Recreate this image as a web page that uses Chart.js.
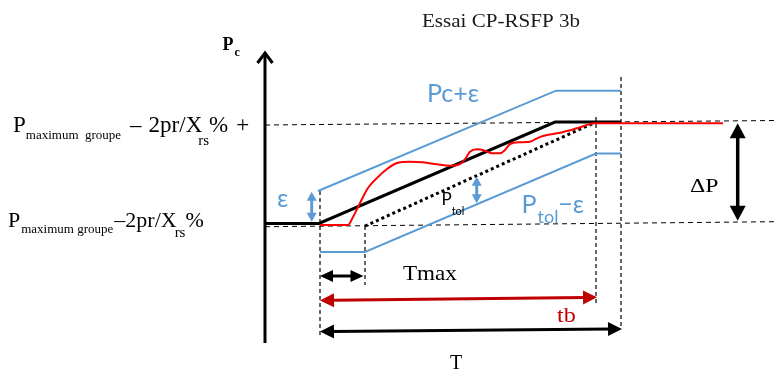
<!DOCTYPE html>
<html>
<head>
<meta charset="utf-8">
<script src="https://cdn.jsdelivr.net/npm/chart.js@4"></script>
<style>
  html, body { margin: 0; padding: 0; background: #fff; }
  #wrap { width: 776px; height: 371px; }
</style>
</head>
<body>
<div id="wrap"><canvas id="diagram" width="776" height="371"></canvas></div>
<script>
// Schematic units: t grows to the right, P is read downwards on the sheet
const axisP = [[265, 53], [265, 343]];
const axisHead = [[257.5, 63], [265, 53], [272.5, 63]];

const levelHigh = [[265, 125], [776, 120.5]];     // Pmax - 2pr/Xrs% + dP
const levelLow = [[265, 226.7], [776, 221.7]];    // Pmax - 2pr/Xrs%

// vertical time markers: t, top, bottom
const timeMarks = [[320, 191, 335], [365, 226, 285], [596, 117, 305], [621, 77, 326]];

const pcSetpoint = [[265, 223.5], [319, 223.5], [555, 122], [621, 122]];
const ptolRamp = [[365, 226], [596, 122]];
const pcPlusEps = [[318, 191], [556, 90.7], [621, 90.7]];
const ptolMinusEps = [[320, 252], [365, 252], [596, 153.5], [621, 153.5]];

// measured power (red trace)
const measuredT = [320, 348, 353, 360, 368, 377, 387, 397, 410, 423, 437, 450, 460, 465, 470, 477, 485, 492, 500, 505, 510, 520, 530, 537, 543, 560, 577, 595, 723];
const measuredP = [225, 225, 217, 203, 188, 178, 169, 163, 161.7, 162.3, 164.3, 165.7, 164, 159.3, 151.7, 149.3, 150.7, 153.3, 153.3, 150, 144, 142.3, 141.7, 138.3, 136, 132.7, 128.3, 123.3, 123.3];

// double arrows: from, to, kind
const arrows = [
  { from: [311.7, 191.7], to: [311.7, 221.7], kind: 'eps' },
  { from: [476.7, 176.7], to: [476.7, 203.3], kind: 'eps' },
  { from: [737.7, 123.3], to: [737.7, 220.7], kind: 'dp' },
  { from: [320, 276], to: [363.5, 276], kind: 'tmax' },
  { from: [320, 300.5], to: [597, 297.3], kind: 'tb' },
  { from: [320, 331.5], to: [622, 329], kind: 'T' }
];

const BLUE = '#5B9BD5';
const RED = '#FF0000';
const DARKRED = '#C00000';
const SERIF = '"Liberation Serif", "DejaVu Serif", serif';
const SANS = 'Lato, "Open Sans", "Noto Sans", sans-serif';

const arrowStyle = {
  eps: { color: BLUE, width: 3, len: 9, half: 5 },
  dp: { color: '#000', width: 3.5, len: 15, half: 8 },
  tmax: { color: '#000', width: 3, len: 13, half: 6 },
  tb: { color: DARKRED, width: 3, len: 14, half: 7 },
  T: { color: '#000', width: 3, len: 14, half: 7 }
};

// text labels, anchored at left baseline
const labels = [
  { at: [422, 27], color: '#1a1a1a', sx: 1.17, runs: [{ t: 'Essai CP-RSFP 3b', f: '18px ' + SERIF }] },
  { at: [222.5, 50], color: '#000', runs: [{ t: 'P', f: 'bold 18px ' + SERIF }, { t: 'c', f: 'bold 12px ' + SERIF, dy: 6, dx: 1 }] },
  { at: [13, 132], color: '#000', runs: [
      { t: 'P', f: '23px ' + SERIF },
      { t: 'maximum  groupe', f: '13px ' + SERIF, dy: 7 },
      { t: '–', f: '23px ' + SERIF, dx: 9 },
      { t: '2pr/X', f: '23px ' + SERIF, dx: 7 },
      { t: 'rs', f: '15px ' + SERIF, dy: 13, dx: -4 },
      { t: '%', f: '23px ' + SERIF, dx: 0 },
      { t: '+', f: '23px ' + SERIF, dx: 8 }] },
  { at: [8, 227], color: '#000', runs: [
      { t: 'P', f: '22px ' + SERIF },
      { t: 'maximum groupe', f: '13px ' + SERIF, dy: 6, dx: 1 },
      { t: '–2pr/X', f: '22px ' + SERIF, dx: 1 },
      { t: 'rs', f: '15px ' + SERIF, dy: 10, dx: -2 },
      { t: '%', f: '22px ' + SERIF }] },
  { at: [427, 101.5], color: BLUE, runs: [{ t: 'Pc+ε', f: '25px ' + SANS }] },
  { at: [277, 207], color: BLUE, runs: [{ t: 'ε', f: '25px ' + SANS }] },
  { at: [441.5, 205], color: '#000', runs: [{ t: 'P', f: '17px ' + SANS }, { t: 'tol', f: '11px ' + SANS, dy: 10 }] },
  { at: [521.5, 213], color: BLUE, runs: [{ t: 'P', f: '25px ' + SANS }, { t: 'tol', f: '18px ' + SANS, dy: 10, dx: 1 }, { t: '−ε', f: '25px ' + SANS }] },
  { at: [690, 191.5], color: '#000', sx: 1.25, runs: [{ t: 'ΔP', f: '19px ' + SERIF }] },
  { at: [403, 279.5], color: '#000', sx: 1.1, runs: [{ t: 'Tmax', f: '21px ' + SERIF }] },
  { at: [557, 321.5], color: DARKRED, sx: 1.15, runs: [{ t: 'tb', f: '21px ' + SERIF }] },
  { at: [450, 369], color: '#000', runs: [{ t: 'T', f: '20px ' + SERIF }] }
];

const pts = arr => arr.map(([x, y]) => ({ x, y }));

function line(data, color, width, extra) {
  return Object.assign({
    data: pts(data),
    showLine: true,
    borderColor: color,
    borderWidth: width,
    pointRadius: 0,
    fill: false,
    tension: 0
  }, extra || {});
}

const datasets = [
  line(measuredT.map((t, i) => [t, measuredP[i]]), RED, 2, { order: 1, cubicInterpolationMode: 'monotone' }),
  line(pcSetpoint, '#000', 3, { order: 2 }),
  line(ptolRamp, '#000', 3, { order: 3, borderDash: [3, 3] }),
  line(pcPlusEps, BLUE, 2, { order: 4 }),
  line(ptolMinusEps, BLUE, 2, { order: 4 }),
  line(axisP, '#000', 3, { order: 2 }),
  line(axisHead, '#000', 3, { order: 2, borderJoinStyle: 'miter' }),
  line(levelHigh, '#000', 1, { order: 6, borderDash: [5, 4] }),
  line(levelLow, '#000', 1, { order: 6, borderDash: [5, 4] })
];
timeMarks.forEach(([t, top, bottom]) => {
  datasets.push(line([[t, top], [t, bottom]], '#000', 1.2, { order: 6, borderDash: [4, 3] }));
});

const annotate = {
  id: 'annotate',
  afterDatasetsDraw(chart) {
    const { ctx, scales: { x, y } } = chart;
    const px = ([a, b]) => ({ x: x.getPixelForValue(a), y: y.getPixelForValue(b) });

    // arrows
    arrows.forEach(a => {
      const s = arrowStyle[a.kind];
      const p1 = px(a.from), p2 = px(a.to);
      const ang = Math.atan2(p2.y - p1.y, p2.x - p1.x);
      const ux = Math.cos(ang), uy = Math.sin(ang);
      ctx.save();
      ctx.strokeStyle = s.color;
      ctx.fillStyle = s.color;
      ctx.lineWidth = s.width;
      ctx.beginPath();
      ctx.moveTo(p1.x + ux * (s.len - 2), p1.y + uy * (s.len - 2));
      ctx.lineTo(p2.x - ux * (s.len - 2), p2.y - uy * (s.len - 2));
      ctx.stroke();
      [[p2, ang], [p1, ang + Math.PI]].forEach(([tip, a2]) => {
        ctx.save();
        ctx.translate(tip.x, tip.y);
        ctx.rotate(a2);
        ctx.beginPath();
        ctx.moveTo(0, 0);
        ctx.lineTo(-s.len, -s.half);
        ctx.lineTo(-s.len, s.half);
        ctx.closePath();
        ctx.fill();
        ctx.restore();
      });
      ctx.restore();
    });

    // labels
    labels.forEach(l => {
      const p = px(l.at);
      ctx.save();
      ctx.translate(p.x, p.y);
      ctx.scale(l.sx || 1, 1);
      ctx.fillStyle = l.color;
      ctx.textBaseline = 'alphabetic';
      let cx = 0;
      l.runs.forEach(r => {
        ctx.font = r.f;
        cx += r.dx || 0;
        ctx.fillText(r.t, cx, r.dy || 0);
        cx += ctx.measureText(r.t).width;
      });
      ctx.restore();
    });
  }
};

new Chart(document.getElementById('diagram'), {
  type: 'scatter',
  data: { datasets },
  options: {
    responsive: false,
    animation: false,
    layout: { padding: 0 },
    plugins: { legend: { display: false }, tooltip: { enabled: false } },
    scales: {
      x: { type: 'linear', min: 0, max: 776, display: false },
      y: { type: 'linear', min: 0, max: 371, reverse: true, display: false }
    }
  },
  plugins: [annotate]
});
</script>
</body>
</html>
